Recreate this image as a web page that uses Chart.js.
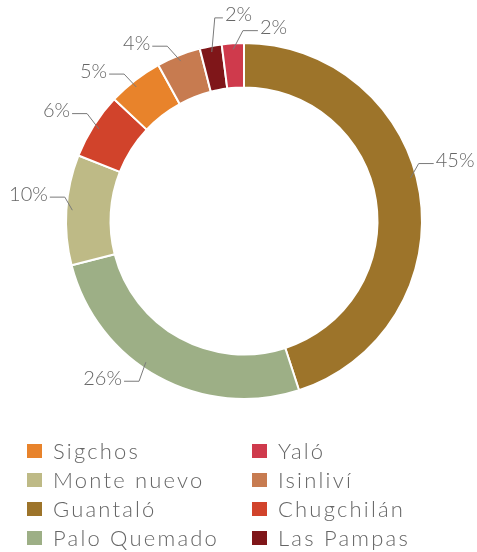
<!DOCTYPE html>
<html>
<head>
<meta charset="utf-8">
<script src="https://cdn.jsdelivr.net/npm/chart.js@4"></script>
<style>
    body { margin: 0; background: #fff; }
    #wrap { position: relative; width: 477px; height: 552px; overflow: hidden; }
    #chart-box { position: absolute; left: 0; top: 0; width: 477px; height: 442px; }
    #legend { position: absolute; left: 0; top: 436px; width: 477px; }
    .item { position: absolute; height: 29px; display: flex; align-items: center;
            font-family: Lato, sans-serif; font-weight: 300; font-size: 22px; letter-spacing: 2.2px;
            color: #666; white-space: nowrap; }
    .item span.box { display: inline-block; width: 15px; height: 14px; margin-right: 11px; }
</style>
</head>
<body>
<div id="wrap">
    <div id="chart-box"><canvas id="donut"></canvas></div>
    <div id="legend"></div>
</div>
<script>
// --- DATA ---
const parishes = ['Guantaló', 'Palo Quemado', 'Monte nuevo', 'Chugchilán', 'Sigchos', 'Isinliví', 'Las Pampas', 'Yaló'];
const shares = [45, 26, 10, 6, 5, 4, 2, 2];
const sliceColors = ['#9D742A', '#9DAF86', '#BEBA86', '#D1432B', '#E8832B', '#C77B50', '#7F1619', '#CF3A4C'];
// legend is read column by column
const legendLeft = ['Sigchos', 'Monte nuevo', 'Guantaló', 'Palo Quemado'];
const legendRight = ['Yaló', 'Isinliví', 'Chugchilán', 'Las Pampas'];
// label nudges: [label angle shift deg, distance from centre, leader anchor shift deg]
const labelNudge = [[-8.5, 201, -5.5], [9, 199, 6], [4.2, 198, 0], [0, 206, 0], [-4.6, 203, -1], [-6.2, 201, 0], [5.5, 207, 0], [8.3, 194, 0]];

// --- LABELS WITH LEADER LINES ---
const leaderLabels = {
    id: 'leaderLabels',
    afterDatasetsDraw(chart) {
        const ctx = chart.ctx;
        const meta = chart.getDatasetMeta(0);
        const total = shares.reduce((a, b) => a + b, 0);
        const deg = Math.PI / 180;
        ctx.save();
        ctx.font = '300 20px Lato, sans-serif';
        ctx.textBaseline = 'middle';
        meta.data.forEach((arc, i) => {
            const p = arc.getProps(['x', 'y', 'startAngle', 'endAngle', 'outerRadius'], true);
            const mid = (p.startAngle + p.endAngle) / 2;
            const ra = p.outerRadius - 6;
            const aa = mid + labelNudge[i][2] * deg;
            const ax = p.x + Math.cos(aa) * ra;
            const ay = p.y + Math.sin(aa) * ra;
            const la = mid + labelNudge[i][0] * deg;
            const lx = p.x + Math.cos(la) * labelNudge[i][1];
            const ly = p.y + Math.sin(la) * labelNudge[i][1];
            const dir = lx > ax ? 1 : -1;
            let ex = lx - dir * 17;
            if (dir === 1) ex = Math.max(ex, ax + 3); else ex = Math.min(ex, ax - 3);
            const ey = ly + 3;

            ctx.strokeStyle = '#7a7a7a';
            ctx.lineWidth = 1;
            ctx.beginPath();
            ctx.moveTo(ax, ay);
            ctx.lineTo(ex, ey);
            ctx.lineTo(lx - dir * 2, ey);
            ctx.stroke();

            ctx.fillStyle = '#666';
            ctx.textAlign = dir === 1 ? 'left' : 'right';
            ctx.fillText(Math.round(shares[i] / total * 100) + '%', lx, ly);
        });
        ctx.restore();
    }
};

// --- CHART ---
new Chart(document.getElementById('donut'), {
    type: 'doughnut',
    data: {
        labels: parishes,
        datasets: [{
            data: shares,
            backgroundColor: sliceColors,
            borderColor: '#ffffff',
            borderWidth: 2
        }]
    },
    options: {
        responsive: true,
        maintainAspectRatio: false,
        animation: false,
        cutout: '75%',
        layout: { padding: { left: 65, right: 54, top: 42, bottom: 42 } },
        plugins: {
            legend: { display: false },
            tooltip: { enabled: false }
        }
    },
    plugins: [leaderLabels]
});

// --- LEGEND ---
const legend = document.getElementById('legend');
function addColumn(names, left) {
    names.forEach((name, row) => {
        const idx = parishes.indexOf(name);
        const item = document.createElement('div');
        item.className = 'item';
        item.style.left = left + 'px';
        item.style.top = (row * 29) + 'px';
        item.innerHTML = `<span class="box" style="background:${sliceColors[idx]}"></span>${name}`;
        legend.appendChild(item);
    });
}
addColumn(legendLeft, 27);
addColumn(legendRight, 252);
</script>
</body>
</html>
